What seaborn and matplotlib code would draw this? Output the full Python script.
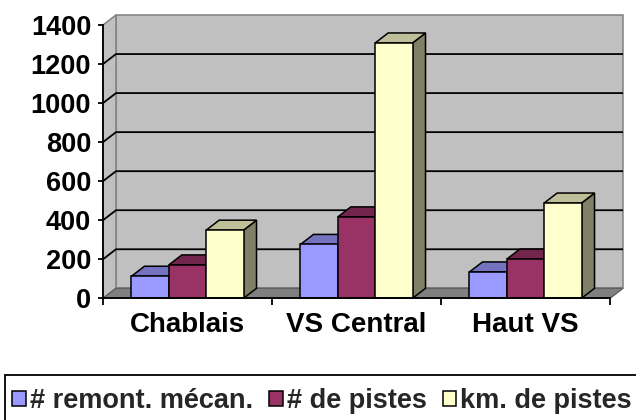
import matplotlib
matplotlib.use("Agg")
import matplotlib.pyplot as plt
import seaborn as sns
import pandas as pd
import numpy as np
from matplotlib.patches import Polygon, Rectangle, Patch

# Data
regions = ["Chablais", "VS Central", "Haut VS"]
series = ["# remont. mécan.", "# de pistes", "km. de pistes"]
remontees = [113, 276, 135]
pistes = [171, 417, 201]
km_pistes = [349, 1308, 488]
y_ticks = [0, 200, 400, 600, 800, 1000, 1200, 1400]

colors = ["#9999FF", "#993366", "#FFFFCC"]

df = pd.DataFrame({
    "region": regions * 3,
    "serie": [s for s in series for _ in regions],
    "valeur": remontees + pistes + km_pistes,
})

sns.set_theme(style="white")
plt.rcParams["font.family"] = ["Liberation Sans", "DejaVu Sans"]
plt.rcParams["font.weight"] = "bold"

W, H, DPI = 636, 420, 100
fig = plt.figure(figsize=(W / DPI, H / DPI), dpi=DPI)
fig.patch.set_facecolor("white")

# front plane of the plot box, in pixels
ax_l, ax_r, ax_t, ax_b = 103, 610, 25, 298.3
ax = fig.add_axes([ax_l / W, 1 - ax_b / H, (ax_r - ax_l) / W, (ax_b - ax_t) / H])
ax.set_facecolor("none")

sns.barplot(data=df, x="region", y="valeur", hue="serie", order=regions,
            hue_order=series, palette=colors, width=0.663, saturation=1,
            edgecolor="black", linewidth=1.1, legend=False, ax=ax)

xmin, xmax, ymin, ymax = -0.5, 2.5, 0, 1400
ax.set_xlim(xmin, xmax)
ax.set_ylim(ymin, ymax)

# depth offset of the 3D box (pixels -> data units)
dx_px, dy_px = 13, 10
ddx = dx_px * (xmax - xmin) / (ax_r - ax_l)
ddy = dy_px * (ymax - ymin) / (ax_b - ax_t)

wall_kw = dict(facecolor="#C0C0C0", edgecolor="#808080", linewidth=1.1,
               clip_on=False, zorder=0.5)
# back wall
ax.add_patch(Rectangle((xmin + ddx, ymin + ddy), xmax - xmin, ymax - ymin, **wall_kw))
# left wall
ax.add_patch(Polygon([(xmin, ymin), (xmin, ymax), (xmin + ddx, ymax + ddy),
                      (xmin + ddx, ymin + ddy)], closed=True, **wall_kw))
# floor
ax.add_patch(Polygon([(xmin, ymin), (xmax, ymin), (xmax + ddx, ymin + ddy),
                      (xmin + ddx, ymin + ddy)], closed=True, facecolor="#808080",
                     edgecolor="#606060", linewidth=1.0, clip_on=False, zorder=0.6))

# gridlines on left and back walls
for v in y_ticks[1:-1]:
    ax.plot([xmin, xmin + ddx, xmax + ddx], [v, v + ddy, v + ddy], color="black",
            linewidth=1.3, clip_on=False, zorder=0.8, solid_capstyle="butt")

# 3D faces for each bar, drawn left to right
bars = sorted([p for p in ax.patches if isinstance(p, Rectangle) and p.get_zorder() > 0.9
               and p.get_height() > 0], key=lambda p: p.get_x())
for i, p in enumerate(bars):
    x0, w, h = p.get_x(), p.get_width(), p.get_height()
    x1 = x0 + w
    fc = np.array(p.get_facecolor()[:3])
    z = 2 + i * 0.1
    side = Polygon([(x1, 0), (x1, h), (x1 + ddx, h + ddy), (x1 + ddx, ddy)], closed=True,
                   facecolor=fc * 0.5, edgecolor="black", linewidth=1.1, zorder=z,
                   clip_on=False, joinstyle="miter")
    top = Polygon([(x0, h), (x1, h), (x1 + ddx, h + ddy), (x0 + ddx, h + ddy)], closed=True,
                  facecolor=fc * 0.75, edgecolor="black", linewidth=1.1, zorder=z,
                  clip_on=False, joinstyle="miter")
    ax.add_patch(side)
    ax.add_patch(top)
    p.set_zorder(z + 0.05)
    p.set_clip_on(False)

# axes lines and ticks
for s in ["top", "right"]:
    ax.spines[s].set_visible(False)
for s in ["left", "bottom"]:
    ax.spines[s].set_color("black")
    ax.spines[s].set_linewidth(1.3)
    ax.spines[s].set_zorder(5)

ax.set_yticks(y_ticks)
ax.set_yticklabels([str(v) for v in y_ticks])
ax.set_xticks(range(len(regions)))
ax.set_xticklabels(regions)
ax.set_xticks([-0.5, 0.5, 1.5, 2.5], minor=True)
ax.tick_params(axis="y", left=True, direction="out", length=3.5, width=1.3,
               color="black", labelsize=19.5, pad=5, labelcolor="black")
ax.tick_params(axis="x", which="major", bottom=True, length=0, labelsize=20, pad=10,
               labelcolor="black")
ax.tick_params(axis="x", which="minor", bottom=True, direction="out", length=5,
               width=1.3, color="black")
for lab in ax.get_xticklabels() + ax.get_yticklabels():
    lab.set_fontweight("bold")
ax.set_xlabel("")
ax.set_ylabel("")

# legend
handles = [Patch(facecolor=c, edgecolor="black", linewidth=1.1) for c in colors]
fig.legend(handles, series, loc="center left", bbox_to_anchor=(12 / W, 1 - 401 / H),
           ncol=3, frameon=False, prop={"weight": "bold", "size": 19.5},
           handlelength=0.5, handleheight=0.5, handletextpad=0.15, columnspacing=0.6,
           borderpad=0, borderaxespad=0)
fig.add_artist(Rectangle((5 / W, -0.5), 2, 0.5 + (1 - 375 / H), transform=fig.transFigure,
                         fill=False, edgecolor="black", linewidth=1.3, clip_on=False))

fig.savefig("out.png", dpi=DPI)
